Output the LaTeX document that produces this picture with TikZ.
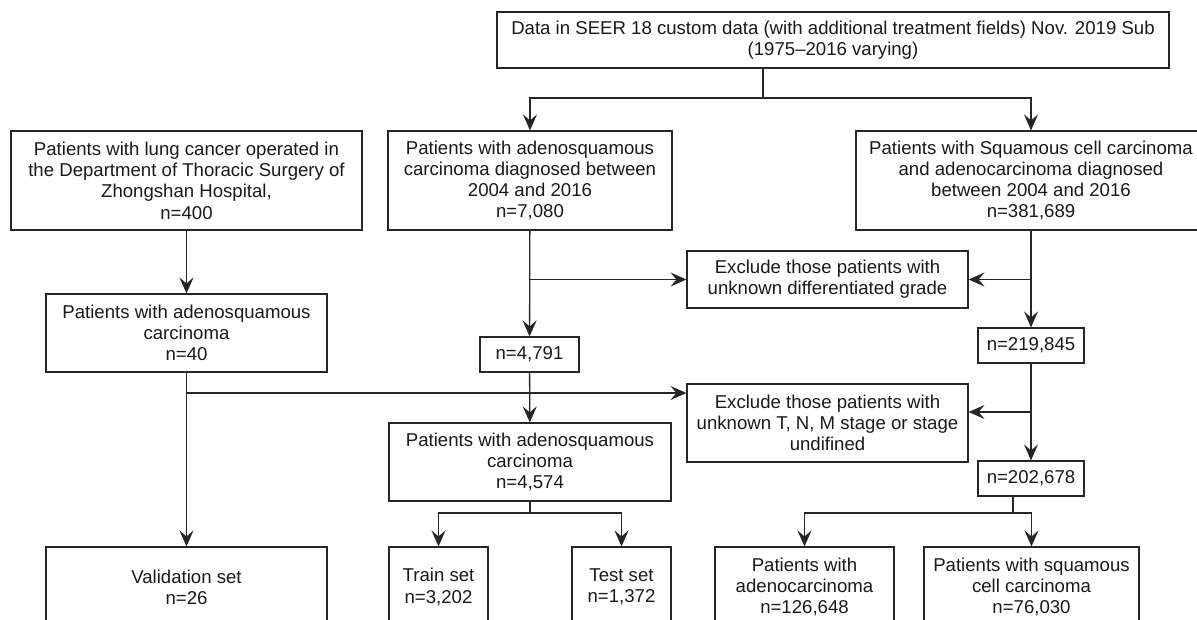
\documentclass[tikz,border=0pt]{standalone}
\usepackage{fontspec}
\setmainfont{Liberation Sans}
\usepackage{tikz}
\usetikzlibrary{arrows.meta, positioning}
\tikzset{box/.style={draw=black!85, line width=1.1pt, align=center, inner sep=0pt, text=black!90,
        font=\fontsize{18.6}{21.3}\selectfont},
    arr/.style={-{Stealth[length=16pt, width=14pt, inset=6pt]}},
    link/.style={draw=black!85, line width=1.3pt}}

\begin{document}
\begin{tikzpicture}[x=1pt, y=-1pt]
            \useasboundingbox (0,0) rectangle (1197,620);
            \node[box, minimum width=672, minimum height=56] (seer) at (833,40) {Data in SEER 18 custom data (with additional treatment fields) Nov. 2019 Sub\\(1975--2016 varying)};
            \node[box, minimum width=351, minimum height=99] (lung) at (186.5,180.5) {Patients with lung cancer operated in\\the Department of Thoracic Surgery of\\Zhongshan Hospital,\\n=400};
            \node[box, minimum width=284, minimum height=99] (asq) at (530,180.5) {Patients with adenosquamous\\carcinoma diagnosed between\\2004 and 2016\\n=7,080};
            \node[box, minimum width=350, minimum height=99] (sqad) at (1031,180.5) {Patients with Squamous cell carcinoma\\and adenocarcinoma diagnosed\\between 2004 and 2016\\n=381,689};
            \node[box, minimum width=281, minimum height=57] (exgrade) at (827.5,279.5) {Exclude those patients with\\unknown differentiated grade};
            \node[box, minimum width=99, minimum height=35] (nasq) at (529.5,354.5) {n=4,791};
            \node[box, minimum width=106, minimum height=35] (nsqad) at (1031,345.5) {n=219,845};
            \node[box, minimum width=281, minimum height=78] (zsasq) at (186.5,333) {Patients with adenosquamous\\carcinoma\\n=40};
            \node[box, minimum width=281, minimum height=78] (exstage) at (827.5,423) {Exclude those patients with\\unknown T, N, M stage or stage\\undifined};
            \node[box, minimum width=282, minimum height=78] (asqfinal) at (530,462) {Patients with adenosquamous\\carcinoma\\n=4,574};
            \node[box, minimum width=106, minimum height=35] (sqadfinal) at (1031,478.5) {n=202,678};
            \node[box, minimum width=281, minimum height=80] (valid) at (186.5,587) {Validation set\\n=26};
            \node[box, minimum width=99, minimum height=80] (train) at (438.5,587) {Train set\\n=3,202};
            \node[box, minimum width=99, minimum height=80] (test) at (621.5,587) {Test set\\n=1,372};
            \node[box, minimum width=179, minimum height=80] (adeno) at (804.5,587) {Patients with\\adenocarcinoma\\n=126,648};
            \node[box, minimum width=215, minimum height=80] (squam) at (1031.5,587) {Patients with squamous\\cell carcinoma\\n=76,030};
            \coordinate (seersplit) at (763,98);
            \coordinate (zsjoin) at (186.5,393);
            \coordinate (sqjoin) at (1031,412);
            \coordinate (asqsplit) at (530,513);
            \coordinate (sqsplit) at (1013,513);
            \draw[link] (seer.south -| seersplit)--(seersplit);
            \draw[link, arr] (seersplit) -| (asq.north);
            \draw[link, arr] (seersplit) -| (sqad.north);
            \draw[link, arr] (lung)--(zsasq);
            \draw[link, arr] (zsasq)--(valid);
            \draw[link, arr] (zsjoin)--(exstage.west |- zsjoin);
            \draw[link, arr] (asq)--(nasq);
            \draw[link, arr] (asq.south |- exgrade.west)--(exgrade.west);
            \draw[link, arr] (nasq)--(asqfinal);
            \draw[link, arr] (sqad)--(nsqad);
            \draw[link, arr] (sqad.south |- exgrade.east)--(exgrade.east);
            \draw[link, arr] (nsqad)--(sqadfinal);
            \draw[link, arr] (sqjoin)--(exstage.east |- sqjoin);
            \draw[link] (asqfinal)--(asqsplit);
            \draw[link, arr] (asqsplit) -| (train.north);
            \draw[link, arr] (asqsplit) -| (test.north);
            \draw[link] (sqadfinal.south -| sqsplit)--(sqsplit);
            \draw[link, arr] (sqsplit) -| (adeno.north);
            \draw[link, arr] (sqsplit) -| (squam.north);
        \end{tikzpicture}
\end{document}
